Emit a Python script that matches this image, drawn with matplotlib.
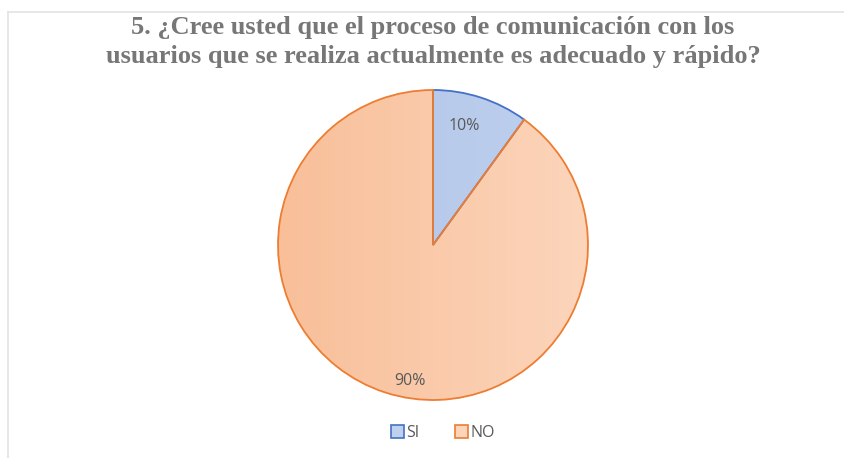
import matplotlib
matplotlib.use("Agg")
import matplotlib.pyplot as plt
import numpy as np
from matplotlib.colors import LinearSegmentedColormap
from matplotlib.lines import Line2D
from matplotlib.patches import Patch

title = "5. ¿Cree usted que el proceso de comunicación con los\nusuarios que se realiza actualmente es adecuado y rápido?"
categories = ["SI", "NO"]
values = [10, 90]
face_dark = ["#b1c5e8", "#f8bf99"]
face_light = ["#bfd0ee", "#fcd5bb"]
edge_colors = ["#4472c4", "#ed7d31"]

fig = plt.figure(figsize=(8.45, 4.58), dpi=100)
fig.patch.set_facecolor("white")

# light frame lines (top and left)
fig.add_artist(Line2D([8/845, 1], [1 - 12/458, 1 - 12/458], color="#e3e3e3", lw=1.2, transform=fig.transFigure))
fig.add_artist(Line2D([8/845, 8/845], [0, 1 - 12/458], color="#e3e3e3", lw=1.2, transform=fig.transFigure))

fig.text(433/845, 1 - 42/458, title, ha="center", va="center", fontsize=19,
         family="Liberation Serif", fontweight="bold", color="#777777", linespacing=1.38)

ax = fig.add_axes([278/845, 58/458, 310/845, 310/458])
wedges, texts, autotexts = ax.pie(values, startangle=90, counterclock=False,
                                  colors=face_dark, autopct="%1.0f%%", pctdistance=0.8,
                                  wedgeprops=dict(linewidth=1.3),
                                  textprops=dict(color="#595959", fontsize=11.5, family="Open Sans"))
ax.set_aspect("equal")
ax.set_xlim(-1.0, 1.0)
ax.set_ylim(-1.0, 1.0)

x = np.linspace(0, 1, 256)
grad = np.tile(x, (16, 1))
for w, c1, c2, ec in zip(wedges, face_dark, face_light, edge_colors):
    cmap = LinearSegmentedColormap.from_list("g", [c1, c2])
    im = ax.imshow(grad, extent=[-1, 1, -1, 1], cmap=cmap, aspect="auto", zorder=0.5)
    im.set_clip_path(w)
    w.set_facecolor("none")
    w.set_edgecolor(ec)
    w.set_zorder(1)

autotexts[0].set_position((0.2, 0.77))
autotexts[1].set_position((-0.15, -0.88))
for t in autotexts:
    t.set_zorder(3)

handles = [Patch(facecolor=c, edgecolor=e, linewidth=1.2) for c, e in zip(face_light, edge_colors)]
leg = fig.legend(handles, categories, loc="center", bbox_to_anchor=(443/845, 1 - 433/458),
                 ncol=2, frameon=False, handlelength=0.85, handleheight=0.85, handletextpad=0.15,
                 columnspacing=2.2, prop=dict(family="Open Sans", size=11.5))
for t in leg.get_texts():
    t.set_color("#595959")

fig.savefig("out.png", dpi=100, facecolor="white")
